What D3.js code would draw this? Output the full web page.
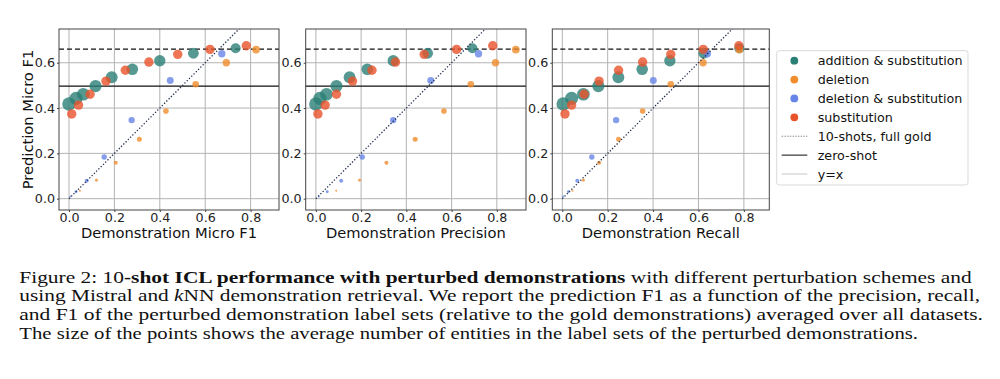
<!DOCTYPE html>
<html>
<head>
<meta charset="utf-8">
<script src="https://cdn.jsdelivr.net/npm/d3@7"></script>
<style>
    body { margin: 0; background: #ffffff; }
    svg { display: block; }
    .tick text { font-family: "DejaVu Sans", sans-serif; font-size: 12.7px; fill: #222; }
    .caption { font-family: "Liberation Serif", "Times New Roman", serif; }
</style>
</head>
<body>
<div id="chart"></div>
<script>
// series names + colours
var seriesNames = ["addition & substitution", "deletion", "deletion & substitution", "substitution"];
var seriesColors = ["#2a7f77", "#f08c2c", "#6685e6", "#e8522a"];

var xLabels = ["Demonstration Micro F1", "Demonstration Precision", "Demonstration Recall"];
var xTicks = [0, 0.2, 0.4, 0.6, 0.8];
var yTicks = [0, 0.2, 0.4, 0.6];

var fullGold = 0.660;  // 10-shots, full gold
var zeroShot = 0.497;

// addition & substitution
var addSubY    = [0.418, 0.443, 0.461, 0.497, 0.536, 0.571, 0.609, 0.642, 0.664];
var addSubF1   = [0.000, 0.031, 0.063, 0.117, 0.188, 0.279, 0.400, 0.548, 0.734];
var addSubPrec = [0.000, 0.018, 0.047, 0.091, 0.149, 0.227, 0.342, 0.494, 0.692];
var addSubRec  = [0.004, 0.041, 0.093, 0.159, 0.247, 0.352, 0.474, 0.623, 0.780];
var addSubEnt  = [4.5, 4.3, 4.0, 3.7, 3.5, 3.3, 3.2, 2.9, 2.5];

// deletion
var delY    = [0.035, 0.081, 0.159, 0.262, 0.387, 0.505, 0.600, 0.658];
var delF1   = [0.048, 0.121, 0.206, 0.310, 0.427, 0.558, 0.693, 0.824];
var delPrec = [0.090, 0.193, 0.312, 0.439, 0.566, 0.685, 0.794, 0.884];
var delRec  = [0.045, 0.093, 0.162, 0.248, 0.354, 0.478, 0.620, 0.780];
var delEnt  = [0.10, 0.22, 0.40, 0.62, 0.78, 1.08, 1.36, 1.50];

// deletion & substitution
var delSubY    = [0.010, 0.031, 0.079, 0.184, 0.347, 0.522, 0.640];
var delSubF1   = [0.006, 0.031, 0.078, 0.155, 0.276, 0.446, 0.673];
var delSubPrec = [0.013, 0.050, 0.112, 0.205, 0.342, 0.508, 0.719];
var delSubRec  = [0.004, 0.027, 0.066, 0.130, 0.237, 0.401, 0.639];
var delSubEnt  = [0.10, 0.22, 0.40, 0.72, 1.00, 1.20, 1.36];

// substitution
var subY    = [0.374, 0.413, 0.461, 0.519, 0.567, 0.603, 0.637, 0.659, 0.675];
var subF1   = [0.012, 0.042, 0.093, 0.163, 0.248, 0.352, 0.479, 0.621, 0.781];
var subPrec = [0.009, 0.041, 0.091, 0.162, 0.248, 0.352, 0.479, 0.622, 0.782];
var subRec  = [0.012, 0.041, 0.096, 0.162, 0.248, 0.354, 0.478, 0.621, 0.778];
var subEnt  = [2.2, 2.2, 2.2, 2.2, 2.2, 2.2, 2.2, 2.2, 2.2];

var captionLines = [
    [["Figure 2: 10", "normal", "normal"], ["-shot ICL performance with perturbed demonstrations", "bold", "normal"], [" with different perturbation schemes and", "normal", "normal"]],
    [["using Mistral and ", "normal", "normal"], ["k", "normal", "italic"], ["NN demonstration retrieval. We report the prediction F1 as a function of the precision, recall,", "normal", "normal"]],
    [["and F1 of the perturbed demonstration label sets (relative to the gold demonstrations) averaged over all datasets.", "normal", "normal"]],
    [["The size of the points shows the average number of entities in the label sets of the perturbed demonstrations.", "normal", "normal"]]
];
var captionWidths = [952.4, 960.7, 963.7, 898.7];

(function() {
    var width = 1000, height = 379;

    var svg = d3.select("#chart")
        .append("svg")
        .attr("width", width)
        .attr("height", height)
        .style("background", "#fff");

    var allY = [addSubY, delY, delSubY, subY];
    var allEnt = [addSubEnt, delEnt, delSubEnt, subEnt];
    // x per panel: [F1, precision, recall]
    var allX = [
        [addSubF1, delF1, delSubF1, subF1],
        [addSubPrec, delPrec, delSubPrec, subPrec],
        [addSubRec, delRec, delSubRec, subRec]
    ];

    // panel boxes (pixel positions) and x domains
    var panels = [
        { left: 59,    right: 279,   xDomain: [-0.044, 0.925] },
        { left: 305.7, right: 526,   xDomain: [-0.045, 0.929] },
        { left: 552.3, right: 769.3, xDomain: [-0.044, 0.912] }
    ];
    var top = 29, bottom = 210;

    var y = d3.scaleLinear().domain([-0.05, 0.749]).range([bottom, top]);
    var size = d3.scaleSqrt().domain([0, 5]).range([0, 7.1]);

    panels.forEach(function(p, pi) {
        var x = d3.scaleLinear().domain(p.xDomain).range([p.left, p.right]);
        var g = svg.append("g");

        g.append("clipPath").attr("id", "clip" + pi)
            .append("rect")
            .attr("x", p.left).attr("y", top)
            .attr("width", p.right - p.left).attr("height", bottom - top);

        // grid
        g.selectAll(".vgrid").data(xTicks).enter().append("line")
            .attr("x1", function(d) { return x(d); })
            .attr("x2", function(d) { return x(d); })
            .attr("y1", top).attr("y2", bottom)
            .attr("stroke", "#b3b3b3").attr("stroke-width", 1);
        g.selectAll(".hgrid").data(yTicks).enter().append("line")
            .attr("x1", p.left).attr("x2", p.right)
            .attr("y1", function(d) { return y(d); })
            .attr("y2", function(d) { return y(d); })
            .attr("stroke", "#b3b3b3").attr("stroke-width", 1);

        // reference lines
        g.append("line")
            .attr("x1", p.left).attr("x2", p.right)
            .attr("y1", y(fullGold)).attr("y2", y(fullGold))
            .attr("stroke", "#111").attr("stroke-width", 1.4)
            .attr("stroke-dasharray", "5,3");
        g.append("line")
            .attr("x1", p.left).attr("x2", p.right)
            .attr("y1", y(zeroShot)).attr("y2", y(zeroShot))
            .attr("stroke", "#111").attr("stroke-width", 1.4);

        // points, series in legend order
        seriesNames.forEach(function(name, si) {
            var pts = allY[si].map(function(v, i) {
                return { x: allX[pi][si][i], y: v, n: allEnt[si][i] };
            });
            g.selectAll(".pt" + si).data(pts).enter().append("circle")
                .attr("cx", function(d) { return x(d.x); })
                .attr("cy", function(d) { return y(d.y); })
                .attr("r", function(d) { return size(d.n); })
                .attr("fill", seriesColors[si])
                .attr("fill-opacity", 0.8);
        });

        // y = x
        g.append("line")
            .attr("clip-path", "url(#clip" + pi + ")")
            .attr("x1", x(0)).attr("y1", y(0))
            .attr("x2", x(1)).attr("y2", y(1))
            .attr("stroke", "#22304f").attr("stroke-width", 1.3)
            .attr("stroke-dasharray", "1.3,1.9");

        // axes
        g.append("g")
            .attr("transform", "translate(0," + bottom + ")")
            .call(d3.axisBottom(x).tickValues(xTicks).tickFormat(d3.format(".1f"))
                .tickSize(2).tickSizeOuter(0).tickPadding(0.8))
            .call(function(a) { a.select(".domain").remove(); a.selectAll("line").attr("stroke", "#444"); });
        g.append("g")
            .attr("transform", "translate(" + p.left + ",0)")
            .call(d3.axisLeft(y).tickValues(yTicks).tickFormat(d3.format(".1f"))
                .tickSize(2).tickSizeOuter(0).tickPadding(2))
            .call(function(a) { a.select(".domain").remove(); a.selectAll("line").attr("stroke", "#444"); });

        g.append("rect")
            .attr("x", p.left).attr("y", top)
            .attr("width", p.right - p.left).attr("height", bottom - top)
            .attr("fill", "none").attr("stroke", "#444").attr("stroke-width", 1);

        g.append("text")
            .attr("x", (p.left + p.right) / 2)
            .attr("y", 237.5)
            .attr("text-anchor", "middle")
            .attr("font-family", "DejaVu Sans")
            .attr("font-size", 14.7)
            .attr("fill", "#111")
            .text(xLabels[pi]);
    });

    svg.append("text")
        .attr("transform", "translate(33," + (top + bottom) / 2 + ") rotate(-90)")
        .attr("text-anchor", "middle")
        .attr("font-family", "DejaVu Sans")
        .attr("font-size", 14.7)
        .attr("fill", "#111")
        .text("Prediction Micro F1");

    // legend
    var legend = svg.append("g");
    legend.append("rect")
        .attr("x", 776.7).attr("y", 50.7)
        .attr("width", 191.3).attr("height", 134.3)
        .attr("rx", 2.5)
        .attr("fill", "#fff").attr("stroke", "#d9d9d9").attr("stroke-width", 1);

    var legendRows = seriesNames.map(function(n, i) { return { label: n, kind: "dot", color: seriesColors[i] }; })
        .concat([
            { label: "10-shots, full gold", kind: "line", color: "#8a8a8a", dash: "1.5,1.2", w: 1 },
            { label: "zero-shot", kind: "line", color: "#222", dash: null, w: 1.1 },
            { label: "y=x", kind: "line", color: "#cfcfcf", dash: null, w: 1.2 }
        ]);
    var rowY = d3.scaleLinear().domain([0, 6]).range([60.7, 174]);

    var rows = legend.selectAll(".row").data(legendRows).enter().append("g")
        .attr("transform", function(d, i) { return "translate(0," + rowY(i) + ")"; });
    rows.filter(function(d) { return d.kind === "dot"; }).append("circle")
        .attr("cx", 794.3).attr("cy", 0).attr("r", 3.9)
        .attr("fill", function(d) { return d.color; });
    rows.filter(function(d) { return d.kind === "line"; }).append("line")
        .attr("x1", 781.7).attr("x2", 807.3)
        .attr("stroke", function(d) { return d.color; })
        .attr("stroke-width", function(d) { return d.w; })
        .attr("stroke-dasharray", function(d) { return d.dash; });
    rows.append("text")
        .attr("x", 817.7).attr("y", 4.6)
        .attr("font-family", "DejaVu Sans")
        .attr("font-size", 12.7)
        .attr("fill", "#111")
        .text(function(d) { return d.label; });

    // caption: fixed glyph height, each line stretched to its width in the figure
    captionLines.forEach(function(parts, li) {
        var t = svg.append("text")
            .attr("class", "caption")
            .attr("x", 19.3)
            .attr("y", 282.7 + li * 18.7)
            .attr("font-size", 16.8)
            .attr("fill", "#111")
            .attr("textLength", captionWidths[li])
            .attr("lengthAdjust", "spacingAndGlyphs");
        parts.forEach(function(s) {
            t.append("tspan")
                .attr("font-weight", s[1])
                .attr("font-style", s[2])
                .text(s[0]);
        });
    });
})();
</script>
</body>
</html>
